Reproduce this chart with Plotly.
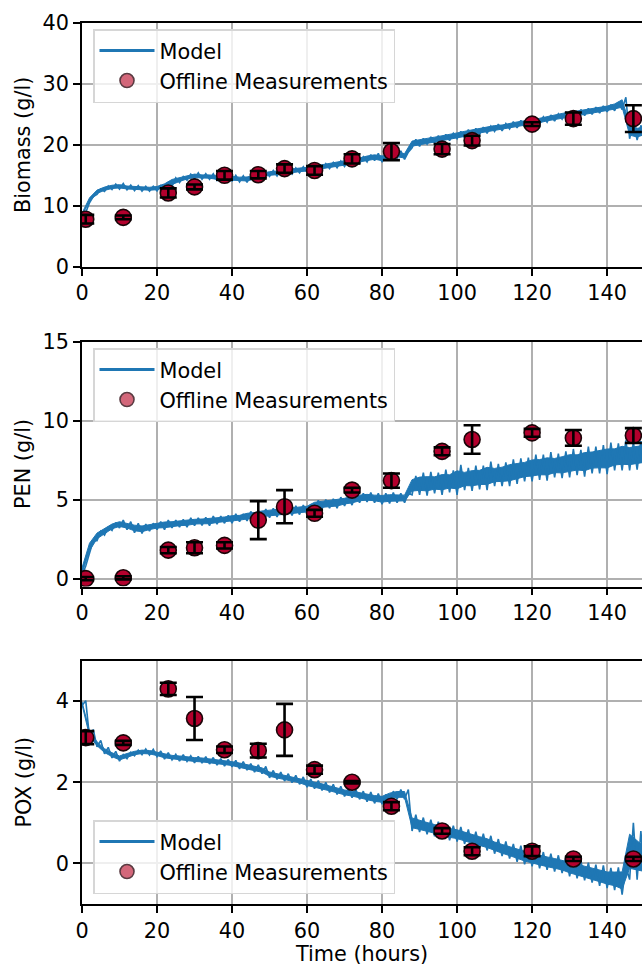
import plotly.graph_objects as go

# ---------------- data ----------------
meas_t = [1, 11, 23, 30, 38, 47, 54, 62, 72, 82.5, 96, 104, 120, 131, 147]

biomass = [7.8, 8.1, 12.1, 13.1, 15.0, 15.1, 16.1, 15.8, 17.7, 18.9, 19.3, 20.7, 23.4, 24.3, 24.3]
biomass_err = [0.7, 0.3, 0.75, 0.4, 0.7, 0.6, 0.7, 0.7, 0.75, 1.4, 0.85, 0.8, 0.3, 1.0, 2.2]

pen = [0.0, 0.05, 1.8, 1.95, 2.1, 3.7, 4.55, 4.13, 5.6, 6.2, 8.05, 8.8, 9.22, 8.9, 9.05]
pen_err = [0.1, 0.1, 0.2, 0.35, 0.2, 1.2, 1.05, 0.22, 0.15, 0.45, 0.25, 0.9, 0.25, 0.5, 0.47]

pox = [3.1, 2.97, 4.3, 3.57, 2.8, 2.78, 3.29, 2.31, 2.0, 1.41, 0.8, 0.3, 0.3, 0.11, 0.11]
pox_err = [0.16, 0.05, 0.15, 0.53, 0.08, 0.17, 0.64, 0.1, 0.03, 0.1, 0.07, 0.1, 0.12, 0.05, 0.05]

# model (noisy online estimate): centre and half-spread of the noise band, every 2 h
model_t = list(range(0, 152, 2))

biomass_mid = [8.6, 11.0, 12.3, 12.8, 13.1, 13.2, 13.0, 12.9, 12.8, 12.8,
               12.9, 13.3, 13.9, 14.3, 14.7, 14.9, 14.8, 14.8, 14.6, 14.7,
               14.5, 14.4, 14.4, 14.7, 15.0, 15.3, 15.4, 15.6, 15.7, 15.9,
               16.0, 16.2, 16.4, 16.6, 16.8, 17.0, 17.3, 17.5, 17.8, 18.0,
               17.8, 18.0, 18.4, 18.2, 20.2, 20.4, 20.7, 20.9, 21.1, 21.3,
               21.6, 21.8, 22.1, 22.3, 22.5, 22.8, 22.9, 23.2, 23.4, 23.6,
               23.7, 24.0, 24.3, 24.5, 24.8, 25.0, 25.2, 25.4, 25.6, 25.8,
               26.0, 26.3, 26.8, 22.5, 22.0, 22.3]
biomass_band = [0.3, 0.5, 0.45, 0.45, 0.45, 0.45, 0.4, 0.4, 0.4, 0.4,
                0.45, 0.5, 0.7, 0.5, 0.5, 0.5, 0.45, 0.45, 0.45, 0.45,
                0.5, 0.5, 0.55, 0.5, 0.5, 0.5, 0.5, 0.5, 0.5, 0.5,
                0.5, 0.55, 0.5, 0.5, 0.55, 0.55, 0.55, 0.55, 0.6, 0.6,
                0.65, 0.6, 0.6, 0.6, 0.7, 0.65, 0.6, 0.6, 0.6, 0.6,
                0.6, 0.7, 0.6, 0.6, 0.6, 0.6, 0.6, 0.6, 0.6, 0.6,
                0.6, 0.6, 0.6, 0.6, 0.6, 0.6, 0.6, 0.6, 0.6, 0.6,
                0.6, 0.7, 1.0, 1.5, 1.2, 1.0]

pen_mid = [0.5, 2.0, 2.7, 3.0, 3.3, 3.45, 3.35, 3.2, 3.15, 3.25,
           3.35, 3.4, 3.45, 3.5, 3.55, 3.6, 3.62, 3.65, 3.7, 3.75,
           3.8, 3.85, 3.95, 4.0, 4.1, 4.15, 4.2, 4.25, 4.3, 4.35,
           4.4, 4.65, 4.7, 4.75, 4.8, 4.9, 5.0, 5.1, 5.15, 5.1,
           5.05, 5.1, 5.1, 5.1, 5.9, 6.0, 6.0, 6.05, 6.1, 6.15,
           6.25, 6.3, 6.35, 6.4, 6.5, 6.55, 6.6, 6.7, 6.8, 6.9,
           7.0, 7.05, 7.1, 7.15, 7.2, 7.3, 7.35, 7.4, 7.5, 7.55,
           7.6, 7.7, 7.8, 7.75, 7.8, 7.9]
pen_band = [0.3, 0.4, 0.3, 0.25, 0.25, 0.25, 0.25, 0.3, 0.3, 0.25,
            0.25, 0.3, 0.25, 0.25, 0.3, 0.25, 0.25, 0.3, 0.25, 0.25,
            0.3, 0.25, 0.3, 0.3, 0.3, 0.3, 0.3, 0.3, 0.3, 0.3,
            0.3, 0.3, 0.3, 0.3, 0.35, 0.3, 0.35, 0.3, 0.3, 0.3,
            0.35, 0.35, 0.3, 0.3, 0.6, 0.7, 0.75, 0.65, 0.8, 0.7,
            0.95, 0.7, 0.8, 0.75, 0.9, 0.7, 0.75, 0.85, 0.8, 0.75,
            0.85, 0.8, 0.9, 0.75, 0.85, 0.9, 0.8, 0.95, 0.85, 0.9,
            1.0, 0.85, 0.95, 0.9, 0.9, 0.9]

pox_mid = [3.95, 3.2, 2.95, 2.78, 2.68, 2.6, 2.66, 2.72, 2.75, 2.74,
           2.7, 2.65, 2.62, 2.6, 2.58, 2.56, 2.55, 2.53, 2.5, 2.48,
           2.46, 2.42, 2.38, 2.34, 2.3, 2.2, 2.16, 2.12, 2.08, 2.04,
           1.98, 1.94, 1.9, 1.85, 1.8, 1.75, 1.72, 1.68, 1.64, 1.6,
           1.58, 1.66, 1.7, 1.7, 1.0, 0.95, 0.9, 0.85, 0.8, 0.75,
           0.72, 0.66, 0.6, 0.55, 0.5, 0.42, 0.36, 0.3, 0.24, 0.18,
           0.13, 0.08, 0.04, 0.0, -0.04, -0.1, -0.15, -0.2, -0.25, -0.3,
           -0.36, -0.38, -0.42, 0.3, 0.2, 0.1]
pox_band = [0.06, 0.1, 0.08, 0.08, 0.08, 0.08, 0.08, 0.07, 0.07, 0.07,
            0.07, 0.08, 0.07, 0.08, 0.07, 0.08, 0.08, 0.08, 0.08, 0.08,
            0.08, 0.09, 0.08, 0.09, 0.09, 0.09, 0.09, 0.09, 0.09, 0.09,
            0.1, 0.1, 0.1, 0.1, 0.1, 0.1, 0.1, 0.1, 0.12, 0.12,
            0.12, 0.12, 0.12, 0.12, 0.2, 0.18, 0.18, 0.18, 0.18, 0.18,
            0.18, 0.18, 0.18, 0.18, 0.18, 0.18, 0.18, 0.18, 0.2, 0.2,
            0.2, 0.2, 0.2, 0.2, 0.2, 0.22, 0.22, 0.22, 0.22, 0.25,
            0.25, 0.28, 0.35, 0.7, 0.6, 0.5]

y_titles = ["Biomass (g/l)", "PEN (g/l)", "POX (g/l)"]
x_ticks = [0, 20, 40, 60, 80, 100, 120, 140]

# ---------------- style ----------------
FONT = "DejaVu Sans"
FS = 20.8
BLUE = "#1f77b4"
GRID = "#b0b0b0"

W, H = 642, 966
ML, MR, MT, MB = 82, 0, 23, 62
PH = H - MT - MB


def clamp(v):
    return max(0.0, min(1.0, v))


def ydom(top_px, bot_px):
    return [clamp((H - MB - bot_px) / PH), clamp((H - MB - top_px) / PH)]


def zigzag(t, mid, band):
    xs, ys = [], []
    for ti, m, b in zip(t, mid, band):
        xs += [ti, ti + 1]
        ys += [m - b, m + b]
    return xs, ys


panels = [
    dict(mid=biomass_mid, band=biomass_band, meas=biomass, err=biomass_err,
         yrange=[0, 40], dtick=10, dom=ydom(23, 266.7), leg_top=29, leg_anchor="top", standoff=6),
    dict(mid=pen_mid, band=pen_band, meas=pen, err=pen_err,
         yrange=[-0.5, 15], dtick=5, dom=ydom(341.5, 586.5), leg_top=348, leg_anchor="top", standoff=6),
    dict(mid=pox_mid, band=pox_band, meas=pox, err=pox_err,
         yrange=[-1, 5], dtick=2, dom=ydom(660.5, 904), leg_top=894, leg_anchor="bottom", standoff=19),
]

fig = go.Figure()
layout = dict(
    width=W, height=H,
    margin=dict(l=ML, r=MR, t=MT, b=MB, autoexpand=False),
    paper_bgcolor="white", plot_bgcolor="white",
    font=dict(family=FONT, size=FS, color="black"),
    showlegend=True,
    hovermode=False,
)

for i, p in enumerate(panels):
    n = "" if i == 0 else str(i + 1)
    xa, ya = "x" + n, "y" + n
    leg = "legend" + n
    mx, my = zigzag(model_t, p["mid"], p["band"])
    core_lo = [m - 0.6 * b for m, b in zip(p["mid"], p["band"])]
    core_hi = [m + 0.6 * b for m, b in zip(p["mid"], p["band"])]

    # dense core of the noisy model band
    fig.add_trace(go.Scatter(x=model_t, y=core_lo, mode="lines", line=dict(color=BLUE, width=1),
                             xaxis=xa, yaxis=ya, showlegend=False, hoverinfo="skip"))
    fig.add_trace(go.Scatter(x=model_t, y=core_hi, mode="lines", line=dict(color=BLUE, width=1),
                             fill="tonexty", fillcolor=BLUE,
                             xaxis=xa, yaxis=ya, showlegend=False, hoverinfo="skip"))
    # jagged model trace
    fig.add_trace(go.Scatter(x=mx, y=my, mode="lines", name="Model",
                             line=dict(color=BLUE, width=1.6),
                             xaxis=xa, yaxis=ya, showlegend=False))
    fig.add_trace(go.Scatter(x=meas_t, y=p["meas"], mode="markers",
                             marker=dict(size=16, color="#b3002d",
                                         line=dict(color="#1a0508", width=1.6)),
                             xaxis=xa, yaxis=ya, showlegend=False))
    fig.add_trace(go.Scatter(x=meas_t, y=p["meas"], mode="markers",
                             marker=dict(size=16, opacity=0),
                             error_y=dict(type="data", array=p["err"], color="black",
                                          thickness=2.6, width=8.5),
                             xaxis=xa, yaxis=ya, showlegend=False))
    # legend entries
    fig.add_trace(go.Scatter(x=[None], y=[None], mode="lines", name="Model",
                             line=dict(color=BLUE, width=3),
                             xaxis=xa, yaxis=ya, legend=leg, showlegend=True))
    fig.add_trace(go.Scatter(x=[None], y=[None], mode="markers",
                             name="Offline Measurements",
                             marker=dict(size=14, color="#d3677a",
                                         line=dict(color="#5a3b42", width=1.6)),
                             xaxis=xa, yaxis=ya, legend=leg, showlegend=True))

    layout["xaxis" + n] = dict(
        domain=[0, 1], anchor=ya, range=[0, 149.3], automargin=False,
        tickvals=x_ticks, ticks="outside", ticklen=7, tickwidth=1.6, tickcolor="black",
        showline=True, linecolor="black", linewidth=1.6, mirror=True,
        showgrid=True, gridcolor=GRID, gridwidth=1.6, zeroline=False,
        tickfont=dict(size=FS),
        title=dict(text="Time (hours)" if i == 2 else "", font=dict(size=FS), standoff=0),
    )
    layout["yaxis" + n] = dict(
        domain=p["dom"], anchor=xa, range=p["yrange"], dtick=p["dtick"], automargin=False,
        ticks="outside", ticklen=7, tickwidth=1.6, tickcolor="black",
        showline=True, linecolor="black", linewidth=1.6, mirror=False,
        showgrid=True, gridcolor=GRID, gridwidth=1.6, zeroline=False,
        tickfont=dict(size=FS),
        title=dict(text=y_titles[i], font=dict(size=FS), standoff=p["standoff"]),
    )
    ly = clamp((H - MB - p["leg_top"]) / PH)
    layout[leg] = dict(
        x=(93 - ML) / (W - ML - MR), y=ly, xanchor="left", yanchor=p["leg_anchor"],
        bgcolor="rgba(255,255,255,0.8)", bordercolor="#d6d6d6", borderwidth=1.5,
        font=dict(family=FONT, size=FS, color="black"),
        itemwidth=55, traceorder="normal",
    )

fig.update_layout(**layout)
fig.write_html("out.html",
               config={"displayModeBar": False},
               post_script="document.body.style.margin='0';document.body.style.overflow='hidden';")
